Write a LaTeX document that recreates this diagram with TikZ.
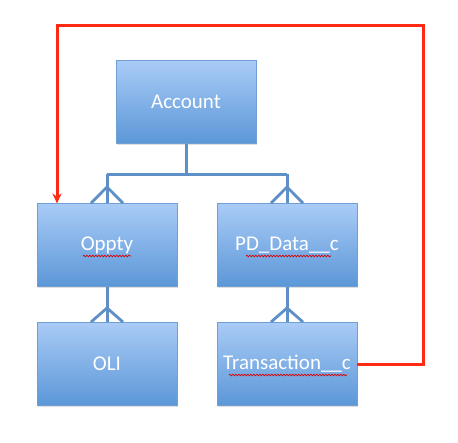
\documentclass[tikz,border=0pt]{standalone}
\usepackage{fontspec}
\setmainfont{Carlito}
\usetikzlibrary{shadows,arrows.meta,decorations.pathmorphing,calc}
\definecolor{boxtop}{HTML}{A9CBF7}
\definecolor{boxbot}{HTML}{5B97D7}
\definecolor{boxedge}{HTML}{729FD2}
\definecolor{linkblue}{HTML}{5E8FC6}
\definecolor{redline}{HTML}{FF2A14}
\tikzset{
  entity/.style={draw=boxedge, line width=0.9pt, top color=boxtop, bottom color=boxbot,
    minimum width=140pt, minimum height=83pt, inner sep=0pt, text=white,
    font=\fontsize{21}{24}\selectfont,
    drop shadow={opacity=0.25, shadow xshift=1pt, shadow yshift=-1.5pt}},
  link/.style={draw=linkblue, line width=3pt},
  crow/.style={draw=linkblue, line width=2.8pt},
  loopline/.style={draw=redline, line width=3pt, -{Stealth[length=10pt,width=9pt]}},
  squiggle/.style={draw=red!85!black, line width=0.7pt, decorate,
    decoration={snake, amplitude=0.8pt, segment length=3pt}}
}
\begin{document}
\begin{tikzpicture}[x=1pt,y=1pt]
\useasboundingbox[fill=white] (0,0) rectangle (458,-442);
\node[entity] (acc) at (186,-102) {Account};
\node[entity] (opp) at (107,-245) {Oppty};
\node[entity] (pd)  at (287,-245) {PD\_Data\_\_c};
\node[entity] (oli) at (107,-364) {OLI};
\node[entity] (tr)  at (287,-364) {Transaction\_\_c};
% spell-check squiggles
\draw[squiggle] (83,-256) -- (131,-256);
\draw[squiggle] (246,-256) -- (331,-256);
\draw[squiggle] (229,-375) -- (347,-375);
% account to children
\coordinate (bus) at (186,-174);
\coordinate (busl) at (107,-174);
\coordinate (busr) at (287,-174);
\draw[link] (acc.south) -- (bus);
\draw[link] (busl) -- (busr);
\draw[link] (busl) -- (opp.north);
\draw[link] (busr) -- (pd.north);
% crow's feet
\coordinate (fo) at (107,-187);
\coordinate (fp) at (287,-187);
\draw[crow] ($(opp.north)+(-16,0)$) -- (fo) -- ($(opp.north)+(16,0)$);
\draw[crow] ($(pd.north)+(-16,0)$) -- (fp) -- ($(pd.north)+(16,0)$);
\draw[link] (opp.south) -- (oli.north);
\draw[link] (pd.south) -- (tr.north);
\coordinate (fo2) at (107,-308);
\coordinate (fp2) at (287,-308);
\draw[crow] ($(oli.north)+(-16,0)$) -- (fo2) -- ($(oli.north)+(16,0)$);
\draw[crow] ($(tr.north)+(-16,0)$) -- (fp2) -- ($(tr.north)+(16,0)$);
% red loop
\coordinate (r1) at (423,-25);
\coordinate (r2) at (57,-25);
\coordinate (r3) at (57,-203.5);
\draw[loopline] (tr.east) -| (r1) -- (r2) -- (r3);
\end{tikzpicture}
\end{document}
